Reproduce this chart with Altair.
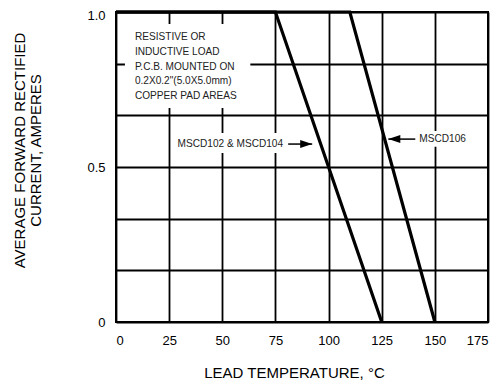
import altair as alt
import pandas as pd

# Derating curves (lead temperature in degC, current in A)
temp_102 = [0, 75, 125]
amps_102 = [1.0, 1.0, 0.0]
temp_106 = [0, 110, 150]
amps_106 = [1.0, 1.0, 0.0]

x_ticks = [0, 25, 50, 75, 100, 125, 150, 175]
y_grid = [0.0, 0.1667, 0.3333, 0.5, 0.6667, 0.8333, 1.0]

note_lines = ["RESISTIVE OR", "INDUCTIVE LOAD", "P.C.B. MOUNTED ON",
              "0.2X0.2\"(5.0X5.0mm)", "COPPER PAD AREAS"]
note_x = [8.9]
note_y = [0.9097]

label_text = ["MSCD102 & MSCD104", "MSCD106"]
label_x = [78.6, 142.7]
label_y = [0.574, 0.59]
label_align = ["right", "left"]

arrow_tail_x = [81.0, 140.8]
arrow_tip_x = [92.3, 128.1]
arrow_y = [0.574, 0.59]
arrow_dir = ["right", "left"]

box_x = [4.2, 27.8, 141.7]
box_x2 = [63.2, 80.5, 166.7]
box_y = [0.69, 0.545, 0.565]
box_y2 = [0.961, 0.61, 0.616]

curves = pd.DataFrame({
    "t": temp_102 + temp_106,
    "a": amps_102 + amps_106,
    "s": ["102"] * len(temp_102) + ["106"] * len(temp_106),
})
boxes = pd.DataFrame({"x": box_x, "x2": box_x2, "y": box_y, "y2": box_y2})
labels = pd.DataFrame({"x": label_x, "y": label_y, "text": label_text, "align": label_align})
arrows = pd.DataFrame({"x": arrow_tail_x, "x2": arrow_tip_x, "y": arrow_y, "dir": arrow_dir})
note = pd.DataFrame({"x": note_x, "y": note_y, "text": ["\n".join(note_lines)]})

xs = alt.Scale(domain=[0, 175], nice=False, zero=False)
ys = alt.Scale(domain=[0, 1], nice=False)

font = "Liberation Sans"
small = 10.1

x_axis = alt.Axis(
    values=x_ticks, title="LEAD TEMPERATURE, °C", labelFontSize=13, labelPadding=12,
    titleFontSize=15, titleFontWeight="normal", titleX=178, titleY=55,
    titleBaseline="alphabetic", titleAlign="center",
)
y_axis = alt.Axis(
    values=y_grid,
    labelExpr="datum.value == 0 ? '0' : (abs(datum.value - 0.5) < 0.01 ? '0.5' : (datum.value == 1 ? '1.0' : ''))",
    title=["AVERAGE FORWARD RECTIFIED", "CURRENT, AMPERES"], labelFontSize=13, labelPadding=11,
    labelOffset={"condition": {"test": "datum.value == 1", "value": 3.5}, "value": 0.5},
    titleFontSize=15, titleFontWeight="normal", titleAngle=270, titleX=-92, titleY=138,
    titleBaseline="alphabetic", titleAlign="center", titleLineHeight=16,
)

base_rect = alt.Chart(boxes).mark_rect(color="white").encode(
    x=alt.X("x:Q", scale=xs, axis=x_axis), x2="x2:Q",
    y=alt.Y("y:Q", scale=ys, axis=y_axis), y2="y2:Q",
)

lines = alt.Chart(curves).mark_line(color="black", strokeWidth=3.2, strokeJoin="miter").encode(
    x=alt.X("t:Q", scale=xs), y=alt.Y("a:Q", scale=ys), detail="s:N"
)

shafts = alt.Chart(arrows).mark_rule(color="black", strokeWidth=1.5).encode(
    x=alt.X("x:Q", scale=xs), x2="x2:Q", y=alt.Y("y:Q", scale=ys)
)
head_r = alt.Chart(arrows).transform_filter("datum.dir == 'right'").mark_point(
    shape="M0,0 L-2,-0.67 L-2,0.67 Z", filled=True, color="black", opacity=1, size=144
).encode(x=alt.X("x2:Q", scale=xs), y=alt.Y("y:Q", scale=ys))
head_l = alt.Chart(arrows).transform_filter("datum.dir == 'left'").mark_point(
    shape="M0,0 L2,-0.67 L2,0.67 Z", filled=True, color="black", opacity=1, size=144
).encode(x=alt.X("x2:Q", scale=xs), y=alt.Y("y:Q", scale=ys))

lab_r = alt.Chart(labels).transform_filter("datum.align == 'right'").mark_text(
    align="right", baseline="middle", font=font, fontSize=small, color="#222"
).encode(x=alt.X("x:Q", scale=xs), y=alt.Y("y:Q", scale=ys), text="text:N")
lab_l = alt.Chart(labels).transform_filter("datum.align == 'left'").mark_text(
    align="left", baseline="middle", font=font, fontSize=small, color="#222"
).encode(x=alt.X("x:Q", scale=xs), y=alt.Y("y:Q", scale=ys), text="text:N")

note_txt = alt.Chart(note).mark_text(
    align="left", baseline="alphabetic", font=font, fontSize=small, lineHeight=14.8,
    lineBreak="\n", color="#222"
).encode(x=alt.X("x:Q", scale=xs), y=alt.Y("y:Q", scale=ys), text="text:N")

chart = alt.layer(base_rect, lines, shafts, head_r, head_l, lab_r, lab_l, note_txt).properties(
    width=372, height=310,
    autosize=alt.AutoSizeParams(type="none"),
    padding={"left": 108, "top": 4, "right": 6, "bottom": 59},
).configure_view(
    stroke="black", strokeWidth=2
).configure_axis(
    grid=True, gridColor="black", gridOpacity=1, gridWidth=1.8,
    domain=False, ticks=False, tickSize=0,
    labelFont=font, titleFont=font, labelColor="black", titleColor="black",
)

chart.save("out.html", embed_options={"renderer": "svg", "actions": False})
